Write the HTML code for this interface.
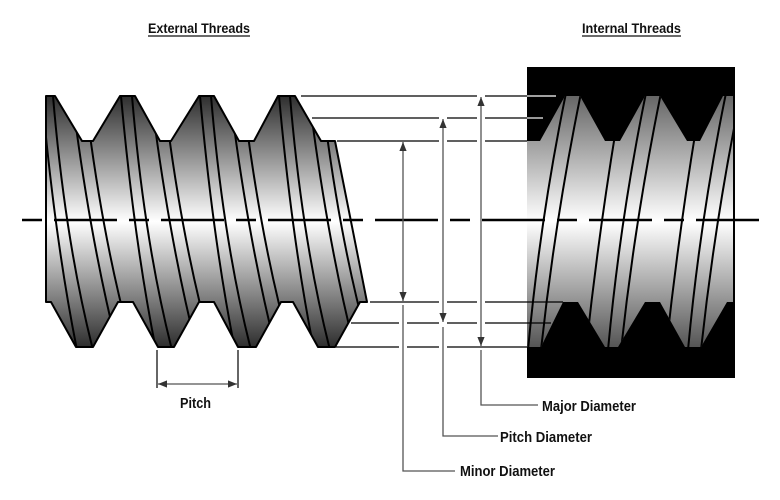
<!DOCTYPE html>
<html><head><meta charset="utf-8"><style>
html,body{margin:0;padding:0;background:#fff;}
svg{display:block;}
text{font-family:"Liberation Sans",Arial,sans-serif;font-weight:bold;fill:#111;}
</style></head><body>
<svg width="780" height="500" viewBox="0 0 780 500" xmlns="http://www.w3.org/2000/svg">
<defs>
<linearGradient id="ge" gradientUnits="userSpaceOnUse" x1="0" y1="96" x2="0" y2="347">
<stop offset="0" stop-color="#2e2e2e"/><stop offset="0.5" stop-color="#ffffff"/><stop offset="1" stop-color="#2e2e2e"/>
</linearGradient>
<linearGradient id="gi" gradientUnits="userSpaceOnUse" x1="0" y1="96" x2="0" y2="347">
<stop offset="0" stop-color="#666"/><stop offset="0.5" stop-color="#ffffff"/><stop offset="1" stop-color="#555"/>
</linearGradient>
<clipPath id="ce"><path d="M46,96 L55,96 L82,141 L93,141 L120,96 L135,96 L160,141 L171,141 L199,96 L214,96 L239,141 L254,141 L278,96 L295,96 L321,141 L335,141 L367,302 L360,302 L335,347 L318,347 L293,302 L281,302 L256,347 L238,347 L214,302 L199,302 L174,347 L158,347 L133,302 L118,302 L93,347 L76,347 L51,302 L46,302 Z"/></clipPath>
<clipPath id="ci"><path d="M527,141 L540,141 L565,96 L580,96 L605,141 L620,141 L645,96 L660,96 L687,141 L700,141 L723,96 L733,96 L733,302 L727,302 L701,347 L685,347 L660,302 L645,302 L618,347 L605,347 L578,302 L563,302 L541,347 L527,347 Z"/></clipPath>
<marker id="ar" viewBox="0 0 10 10" refX="10" refY="5" markerWidth="7" markerHeight="7" orient="auto-start-reverse"><path d="M0,1 L10,5 L0,9 Z" fill="#333"/></marker>
</defs>

<text x="148" y="33" font-size="14" textLength="102" lengthAdjust="spacingAndGlyphs">External Threads</text>
<line x1="148" y1="36" x2="250" y2="36" stroke="#111" stroke-width="1.2"/>
<text x="582" y="33" font-size="14" textLength="99" lengthAdjust="spacingAndGlyphs">Internal Threads</text>
<line x1="582" y1="36" x2="681" y2="36" stroke="#111" stroke-width="1.2"/>

<rect x="527" y="67" width="208" height="311" fill="#000"/>
<path d="M527,141 L540,141 L565,96 L580,96 L605,141 L620,141 L645,96 L660,96 L687,141 L700,141 L723,96 L733,96 L733,302 L727,302 L701,347 L685,347 L660,302 L645,302 L618,347 L605,347 L578,302 L563,302 L541,347 L527,347 Z" fill="url(#gi)"/>
<g clip-path="url(#ci)" stroke="#000" stroke-width="2" fill="none">
<path d="M528,350 Q540,220 566,93"/><path d="M541,350 Q555,220 581,93"/>
<path d="M586,350 Q600,220 622,93"/>
<path d="M608,350 Q620,220 646,93"/><path d="M621,350 Q635,220 661,93"/>
<path d="M666,350 Q680,220 702,93"/>
<path d="M688,350 Q700,220 726,93"/><path d="M701,350 Q715,220 741,93"/>
</g>

<path d="M46,96 L55,96 L82,141 L93,141 L120,96 L135,96 L160,141 L171,141 L199,96 L214,96 L239,141 L254,141 L278,96 L295,96 L321,141 L335,141 L367,302 L360,302 L335,347 L318,347 L293,302 L281,302 L256,347 L238,347 L214,302 L199,302 L174,347 L158,347 L133,302 L118,302 L93,347 L76,347 L51,302 L46,302 Z" fill="url(#ge)"/>
<g clip-path="url(#ce)" stroke="#000" stroke-width="2" fill="none">
<path d="M42,96 Q55,240 77,350"/><path d="M53,96 Q65,240 93,350"/>
<path d="M72,96 Q90,240 118,350"/><path d="M85,96 Q102,240 133,350"/>
<path d="M121,96 Q134,240 156,350"/><path d="M132,96 Q144,240 172,350"/>
<path d="M151,96 Q169,240 197,350"/><path d="M164,96 Q181,240 212,350"/>
<path d="M200,96 Q213,240 235,350"/><path d="M211,96 Q223,240 251,350"/>
<path d="M230,96 Q248,240 276,350"/><path d="M243,96 Q260,240 291,350"/>
<path d="M279,96 Q292,240 314,350"/><path d="M290,96 Q302,240 330,350"/>
<path d="M309,96 Q327,240 355,350"/><path d="M322,96 Q339,240 370,350"/>
</g>
<path d="M46,96 L55,96 L82,141 L93,141 L120,96 L135,96 L160,141 L171,141 L199,96 L214,96 L239,141 L254,141 L278,96 L295,96 L321,141 L335,141 L367,302 L360,302 L335,347 L318,347 L293,302 L281,302 L256,347 L238,347 L214,302 L199,302 L174,347 L158,347 L133,302 L118,302 L93,347 L76,347 L51,302 L46,302 Z" fill="none" stroke="#000" stroke-width="2" stroke-linejoin="round"/>

<line x1="22" y1="220" x2="762" y2="220" stroke="#000" stroke-width="2.5" stroke-dasharray="20 12 63 12"/>

<g stroke="#000" stroke-width="1.2">
<line x1="301" y1="96" x2="477" y2="96"/><line x1="485" y1="96" x2="527" y2="96"/>
<line x1="312" y1="118" x2="439" y2="118"/><line x1="447" y1="118" x2="477" y2="118"/><line x1="485" y1="118" x2="527" y2="118"/>
<line x1="337" y1="141" x2="439" y2="141"/><line x1="447" y1="141" x2="477" y2="141"/><line x1="485" y1="141" x2="527" y2="141"/>
<line x1="370" y1="302" x2="439" y2="302"/><line x1="447" y1="302" x2="477" y2="302"/><line x1="485" y1="302" x2="563" y2="302"/>
<line x1="351" y1="323" x2="399" y2="323"/><line x1="407" y1="323" x2="439" y2="323"/><line x1="447" y1="323" x2="477" y2="323"/><line x1="485" y1="323" x2="551" y2="323"/>
<line x1="336" y1="347" x2="399" y2="347"/><line x1="407" y1="347" x2="439" y2="347"/><line x1="447" y1="347" x2="527" y2="347"/>
</g>
<g stroke="#fff" stroke-width="1.2">
<line x1="527" y1="96" x2="556" y2="96"/><line x1="527" y1="118" x2="543" y2="118"/>
</g>

<g stroke="#555" stroke-width="1.3" fill="none">
<line x1="403" y1="142" x2="403" y2="301" marker-start="url(#ar)" marker-end="url(#ar)"/>
<line x1="443" y1="119" x2="443" y2="322" marker-start="url(#ar)" marker-end="url(#ar)"/>
<line x1="481" y1="97" x2="481" y2="346" marker-start="url(#ar)" marker-end="url(#ar)"/>
<polyline points="403,305 403,471 455,471"/>
<polyline points="443,327 443,436 498,436"/>
<polyline points="481,350 481,405 538,405"/>
<line x1="158" y1="384" x2="237" y2="384" marker-start="url(#ar)" marker-end="url(#ar)"/>
</g>
<g stroke="#000" stroke-width="1.2">
<line x1="157" y1="350" x2="157" y2="388"/><line x1="238" y1="350" x2="238" y2="388"/>
</g>

<text x="180" y="408" font-size="15" textLength="31" lengthAdjust="spacingAndGlyphs">Pitch</text>
<text x="542" y="411" font-size="15" textLength="94" lengthAdjust="spacingAndGlyphs">Major Diameter</text>
<text x="500" y="442" font-size="15" textLength="92" lengthAdjust="spacingAndGlyphs">Pitch Diameter</text>
<text x="460" y="476" font-size="15" textLength="95" lengthAdjust="spacingAndGlyphs">Minor Diameter</text>
</svg>
</body></html>
